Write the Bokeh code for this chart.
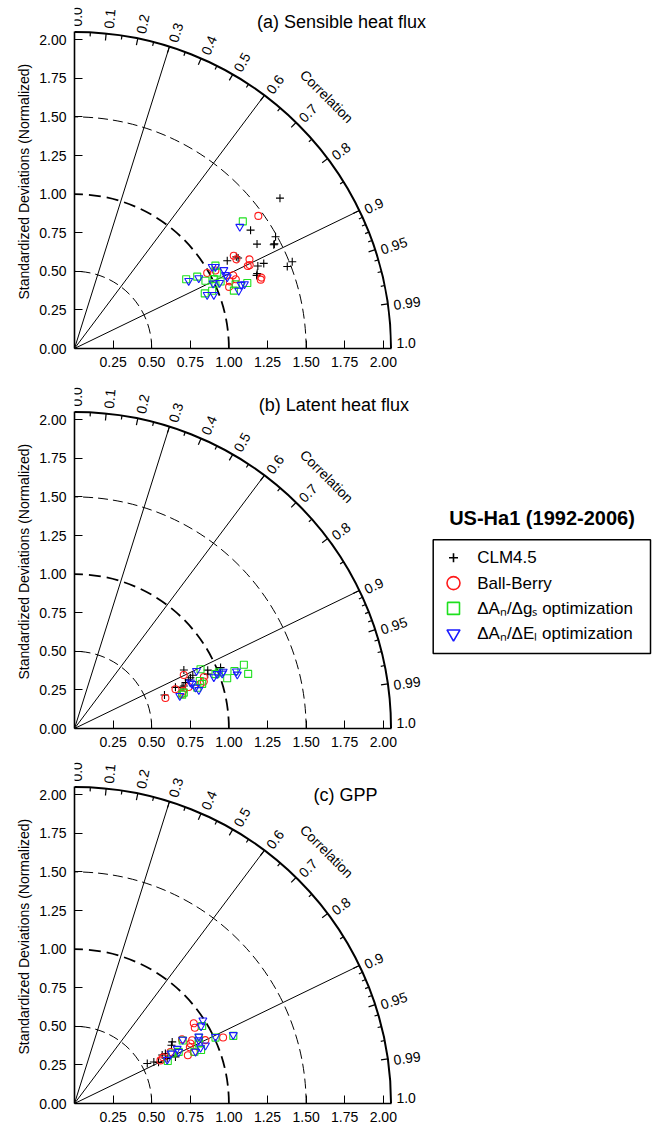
import numpy as np
from bokeh.plotting import figure
from bokeh.models import Range1d, FixedTicker, PrintfTickFormatter, Label, Title
from bokeh.layouts import column
from bokeh.core.properties import value
from bokeh.embed import file_html
from bokeh.resources import INLINE

FONT = "Liberation Sans"

# ---------------- data (normalized std dev, correlation) ----------------
SERIES_NAMES = ["CLM4.5", "Ball-Berry", "ΔAₙ/Δgₛ optimization", "ΔAₙ/ΔEₗ optimization"]
LEGEND_TITLE = "US-Ha1 (1992-2006)"
Y_TITLE = "Standardized Deviations (Normalized)"

# (a) Sensible heat flux
SH_CLM_STD = [1.649, 1.374, 1.362, 1.490, 1.455, 1.141, 1.205, 1.302, 1.344, 1.279, 1.271, 1.477, 1.518, 1.211, 1.461]
SH_CLM_COR = [0.807, 0.830, 0.868, 0.874, 0.887, 0.867, 0.870, 0.912, 0.912, 0.925, 0.928, 0.933, 0.929, 0.875, 0.886]
SH_BB_STD = [1.468, 1.194, 1.197, 1.272, 1.243, 1.257, 1.132, 1.137, 1.078, 1.295, 1.286, 0.989, 1.096, 1.043]
SH_BB_COR = [0.811, 0.864, 0.876, 0.891, 0.903, 0.903, 0.908, 0.919, 0.929, 0.935, 0.938, 0.869, 0.918, 0.875]
SH_GS_STD = [1.366, 0.851, 0.921, 0.955, 0.916, 0.967, 1.059, 1.047, 1.008, 1.041, 1.098, 1.123, 1.197, 1.005]
SH_GS_COR = [0.798, 0.850, 0.863, 0.888, 0.921, 0.922, 0.862, 0.883, 0.895, 0.909, 0.940, 0.929, 0.935, 0.908]
SH_EL_STD = [1.330, 0.860, 0.925, 1.037, 1.055, 1.093, 1.092, 0.927, 0.967, 0.992, 1.031, 1.128, 1.156, 1.177, 1.088]
SH_EL_COR = [0.805, 0.860, 0.870, 0.860, 0.865, 0.885, 0.906, 0.927, 0.933, 0.905, 0.911, 0.943, 0.934, 0.935, 0.899]

# (b) Latent heat flux
LH_CLM_STD = [0.622, 0.803, 0.840, 0.942, 0.932, 1.025, 0.778, 0.760, 0.706, 0.804, 0.746, 0.820]
LH_CLM_COR = [0.937, 0.882, 0.912, 0.916, 0.926, 0.923, 0.924, 0.932, 0.926, 0.920, 0.934, 0.916]
LH_BB_STD = [0.621, 0.788, 0.702, 0.732, 0.902, 0.891, 0.745, 0.787, 0.865]
LH_BB_COR = [0.948, 0.898, 0.932, 0.952, 0.929, 0.940, 0.945, 0.940, 0.943]
LH_GS_STD = [0.902, 1.172, 1.179, 1.041, 1.101, 0.868, 0.876, 0.838, 0.731, 0.745, 1.003, 0.979]
LH_GS_COR = [0.905, 0.936, 0.954, 0.950, 0.941, 0.935, 0.944, 0.949, 0.954, 0.950, 0.932, 0.933]
LH_EL_STD = [0.874, 1.112, 1.111, 0.989, 1.021, 0.962, 0.815, 0.828, 0.843, 0.714, 0.808, 1.031]
LH_EL_COR = [0.904, 0.943, 0.949, 0.934, 0.937, 0.938, 0.935, 0.947, 0.955, 0.955, 0.929, 0.934]

# (c) GPP
GPP_CLM_STD = [0.538, 0.580, 0.649, 0.672, 0.748, 0.733, 0.720, 0.667, 0.606]
GPP_CLM_COR = [0.876, 0.886, 0.875, 0.876, 0.846, 0.857, 0.908, 0.900, 0.898]
GPP_BB_STD = [0.931, 0.921, 1.053, 0.865, 0.846, 0.831, 0.798, 0.842, 0.811, 0.623, 0.647, 0.942, 0.706]
GPP_BB_COR = [0.830, 0.846, 0.914, 0.881, 0.888, 0.899, 0.920, 0.918, 0.859, 0.894, 0.887, 0.900, 0.881]
GPP_GS_STD = [0.967, 1.008, 1.118, 0.911, 0.890, 0.846, 0.811, 0.753, 0.711, 0.664, 0.894]
GPP_GS_COR = [0.855, 0.906, 0.920, 0.884, 0.921, 0.918, 0.864, 0.896, 0.890, 0.910, 0.900]
GPP_EL_STD = [0.991, 0.961, 1.010, 1.120, 0.915, 0.903, 0.928, 0.853, 0.814, 0.754, 0.753, 0.705, 0.664, 0.893]
GPP_EL_COR = [0.839, 0.853, 0.904, 0.918, 0.880, 0.891, 0.914, 0.919, 0.861, 0.882, 0.896, 0.888, 0.904, 0.914]

# ---------------- diagram furniture ----------------
STD_TICKS = [0.0, 0.25, 0.5, 0.75, 1.0, 1.25, 1.5, 1.75, 2.0]
COR_LABEL_VALUES = [0.0, 0.1, 0.2, 0.3, 0.4, 0.5, 0.6, 0.7, 0.8, 0.9, 0.95, 0.99, 1.0]
COR_LABELS = ["0.0", "0.1", "0.2", "0.3", "0.4", "0.5", "0.6", "0.7", "0.8", "0.9", "0.95", "0.99", "1.0"]
COR_MAJOR = [0.1, 0.2, 0.3, 0.4, 0.5, 0.6, 0.7, 0.8, 0.9, 0.95, 0.99]
COR_MINOR = [0.05, 0.15, 0.25, 0.35, 0.45, 0.55, 0.65, 0.75, 0.85,
             0.91, 0.92, 0.93, 0.94, 0.96, 0.97, 0.98]
RADIAL_LINES = [0.3, 0.6, 0.9]
STD_ARCS = [0.5, 1.0, 1.5]

K = 154.4          # pixels per normalized unit
R_ARC = 2.05
FRAME_W = 579
COLORS = ["black", "#ff1a1a", "#1fe01f", "#1a1aff"]
MARKERS = ["cross", "circle", "square", "inverted_triangle"]
SIZES = [8, 7, 7, 8]


def xy(std, cor):
    s = np.asarray(std, float)
    c = np.asarray(cor, float)
    return s * c, s * np.sqrt(1 - c ** 2)


def panel(title, title_pos, data, frame_h, bottom):
    p = figure(frame_width=FRAME_W, frame_height=frame_h,
               x_range=Range1d(0, FRAME_W / K), y_range=Range1d(0, frame_h / K),
               output_backend="svg", toolbar_location=None,
               min_border_left=74, min_border_right=0, min_border_top=0,
               min_border_bottom=bottom, background_fill_color="white")
    p.xgrid.visible = False
    p.ygrid.visible = False
    p.outline_line_color = None
    for ax, ticks in ((p.xaxis[0], STD_TICKS[1:]), (p.yaxis[0], STD_TICKS)):
        ax.ticker = FixedTicker(ticks=ticks)
        ax.formatter = PrintfTickFormatter(format="%.2f")
        ax.bounds = (0, R_ARC)
        ax.major_tick_in = 8
        ax.major_tick_out = 0
        ax.minor_tick_line_color = None
        ax.axis_line_width = 1.6
        ax.axis_line_color = "black"
        ax.major_tick_line_color = "black"
        ax.major_tick_line_width = 1
        ax.major_label_text_font = FONT
        ax.major_label_text_font_size = "14px"
        ax.major_label_text_color = "black"
    p.xaxis.major_label_standoff = 8
    p.yaxis.major_label_standoff = 8
    p.add_layout(Title(text=Y_TITLE, align="left", offset=49, standoff=10,
                       text_font=FONT, text_font_size="14px", text_font_style="normal",
                       text_color="black"), "left")

    # standard deviation arcs
    for r in STD_ARCS:
        thick = (r == 1.0)
        p.arc(x=0, y=0, radius=r, start_angle=0, end_angle=np.pi / 2,
              line_color="black", line_width=1.8 if thick else 1.0,
              line_dash="12 6" if thick else "10 5")
    # outer correlation arc
    p.arc(x=0, y=0, radius=R_ARC, start_angle=0, end_angle=np.pi / 2,
          line_color="black", line_width=2)
    # radial lines
    rc = np.array(RADIAL_LINES)
    p.segment(x0=0, y0=0, x1=R_ARC * rc, y1=R_ARC * np.sqrt(1 - rc ** 2),
              line_color="black", line_width=1)
    # correlation ticks
    for vals, ln in ((COR_MAJOR, 0.045), (COR_MINOR, 0.026)):
        c = np.array(vals)
        s = np.sqrt(1 - c ** 2)
        p.segment(x0=(R_ARC - ln) * c, y0=(R_ARC - ln) * s, x1=R_ARC * c, y1=R_ARC * s,
                  line_color="black", line_width=1.2)
    # correlation labels (radial)
    rl = 2.085
    off = 2.0 / K
    for cv, lab in zip(COR_LABEL_VALUES, COR_LABELS):
        th = float(np.arccos(cv))
        if cv >= 1.0:
            lx, ly, base = rl, 0.5 / K, "bottom"
        else:
            lx = rl * np.cos(th) + off * np.sin(th)
            ly = rl * np.sin(th) - off * np.cos(th)
            base = "middle"
        p.add_layout(Label(x=lx, y=ly, x_units="data", y_units="data", text=lab,
                           angle=th, angle_units="rad", text_align="left",
                           text_baseline=base, text_font=FONT, text_font_size="14px",
                           text_color="black"))
    p.add_layout(Label(x=2.31 * np.cos(np.pi / 4), y=2.31 * np.sin(np.pi / 4),
                       x_units="data", y_units="data", text="Correlation",
                       angle=-np.pi / 4, angle_units="rad", text_align="center",
                       text_baseline="middle", text_font=FONT, text_font_size="14px",
                       text_color="black"))

    # data
    for (std, cor), col, mk, sz in zip(data, COLORS, MARKERS, SIZES):
        x, y = xy(std, cor)
        p.scatter(x=x, y=y, marker=mk, size=sz, line_color=col, fill_color=None,
                  line_width=1.1)

    p.add_layout(Label(x=title_pos[0], y=title_pos[1], x_units="data", y_units="data",
                       text=title, text_font=FONT, text_font_size="18px",
                       text_align="center", text_baseline="middle", text_color="black"))
    return p


pa = panel("(a) Sensible heat flux", (1.729, 2.116),
           [(SH_CLM_STD, SH_CLM_COR), (SH_BB_STD, SH_BB_COR),
            (SH_GS_STD, SH_GS_COR), (SH_EL_STD, SH_EL_COR)], 348, 25)
pb = panel("(b) Latent heat flux", (1.68, 2.095),
           [(LH_CLM_STD, LH_CLM_COR), (LH_BB_STD, LH_BB_COR),
            (LH_GS_STD, LH_GS_COR), (LH_EL_STD, LH_EL_COR)], 355, 25)
pc = panel("(c) GPP", (1.755, 1.997),
           [(GPP_CLM_STD, GPP_CLM_COR), (GPP_BB_STD, GPP_BB_COR),
            (GPP_GS_STD, GPP_GS_COR), (GPP_EL_STD, GPP_EL_COR)], 350, 25)

# ---------------- legend (inside panel b, positions in px from its origin) ----------------
box_l, box_r, box_b, box_t = 358.7 / K, 576.0 / K, 75.0 / K, 188.7 / K
pb.quad(left=[box_l], right=[box_r], bottom=[box_b], top=[box_t],
        fill_color=None, line_color="black", line_width=1.5)
rows = np.array([170.7, 145.4, 120.1, 94.8]) / K
leg_sizes = [9, 13, 12, 13]
for i in range(4):
    pb.scatter(x=[379.0 / K], y=[rows[i]], marker=MARKERS[i], size=leg_sizes[i],
               line_color=COLORS[i], fill_color=None, line_width=1.6)
pb.text(x=[402.7 / K] * 4, y=list(rows), text=SERIES_NAMES, text_align="left",
        text_baseline="middle", text_font=value(FONT), text_font_size="17px",
        text_color="black")
pb.text(x=[467.5 / K], y=[211.0 / K], text=[LEGEND_TITLE], text_align="center",
        text_baseline="middle", text_font=value(FONT), text_font_size="20px",
        text_font_style="bold", text_color="black")

layout = column(pa, pb, pc, spacing=0)
open("out.html", "w").write(file_html(layout, INLINE))
